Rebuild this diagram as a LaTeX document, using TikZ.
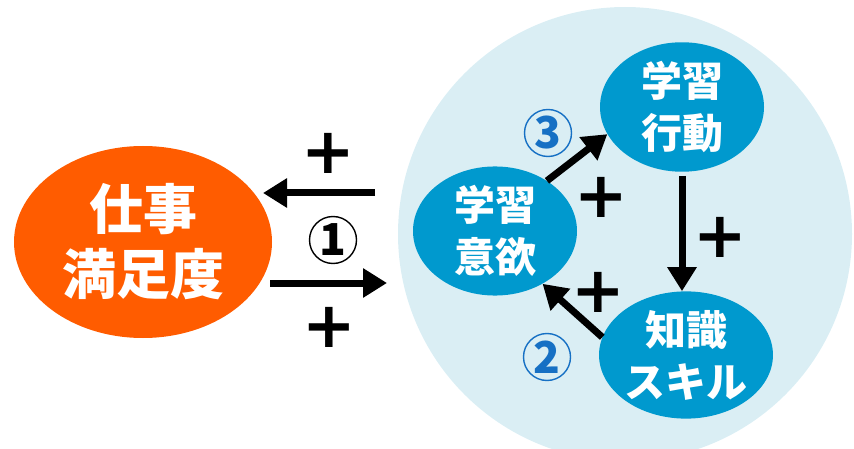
\documentclass[tikz,border=0pt]{standalone}
\usepackage{fontspec}
\newfontfamily\jp{Noto Sans CJK JP}
\newfontfamily\plusfont{DejaVu Sans}
\usetikzlibrary{shapes.geometric,arrows.meta}
\definecolor{bgblue}{RGB}{218,238,244}
\definecolor{nodeblue}{RGB}{0,153,206}
\definecolor{jsorange}{RGB}{255,92,0}
\definecolor{numblue}{RGB}{22,112,196}
\begin{document}
\begin{tikzpicture}[x=1pt,y=-1pt,
  arr/.style={line width=7pt,-{Triangle[length=24pt,width=28pt]}},
  bluenode/.style={ellipse,fill=nodeblue,inner sep=0pt,minimum width=164pt,minimum height=124pt,
    text=white,align=center,font={\jp\bfseries\fontsize{41}{52}\selectfont}},
  plus/.style={font={\plusfont\bfseries\fontsize{64}{64}\selectfont},inner sep=0pt},
  num/.style={circle,draw,line width=1.4pt,minimum size=47pt,inner sep=0pt,
    font={\jp\bfseries\fontsize{44}{44}\selectfont}}]
\clip (0,0) rectangle (854,449);
\useasboundingbox (0,0) rectangle (854,449);
% background circle
\node[circle,fill=bgblue,minimum size=454pt,inner sep=0pt] (bg) at (625,234) {};
% job satisfaction
\node[ellipse,fill=jsorange,inner sep=0pt,minimum width=258pt,minimum height=192pt,
  text=white,align=center,font={\jp\bfseries\fontsize{54}{65}\selectfont}] (js) at (143,242) {仕事\\満足度};
% inner nodes
\node[bluenode] (iy) at (495,231) {学習\\意欲};
\node[bluenode] (gk) at (682,107) {学習\\行動};
\node[bluenode] (ks) at (686,355) {知識\\スキル};
% arrows between js and bg
\coordinate (l1) at (375,193);
\coordinate (l2) at (263,193);
\coordinate (r1) at (270,283);
\coordinate (r2) at (387,283);
\draw[arr] (l1) -- (l2);
\draw[arr] (r1) -- (r2);
\node[plus] (p1) at (328,153) {+};
\node[plus] (p2) at (329,327) {+};
\node[num,draw=black,text=black] (n1) at (333,240) {1};
% inner arrows
\draw[arr] (iy.44) -- (gk.200);
\draw[arr,shorten <=4pt] (gk.south) -- (gk.south |- ks.north);
\draw[arr] (ks.168) -- (iy.-48);
\node[plus] (p3) at (601,197) {+};
\node[plus] (p4) at (720,237) {+};
\node[plus] (p5) at (598,292) {+};
\node[num,draw=numblue,text=numblue] (n3) at (548,133) {3};
\node[num,draw=numblue,text=numblue] (n2) at (547,357) {2};
\end{tikzpicture}
\end{document}
